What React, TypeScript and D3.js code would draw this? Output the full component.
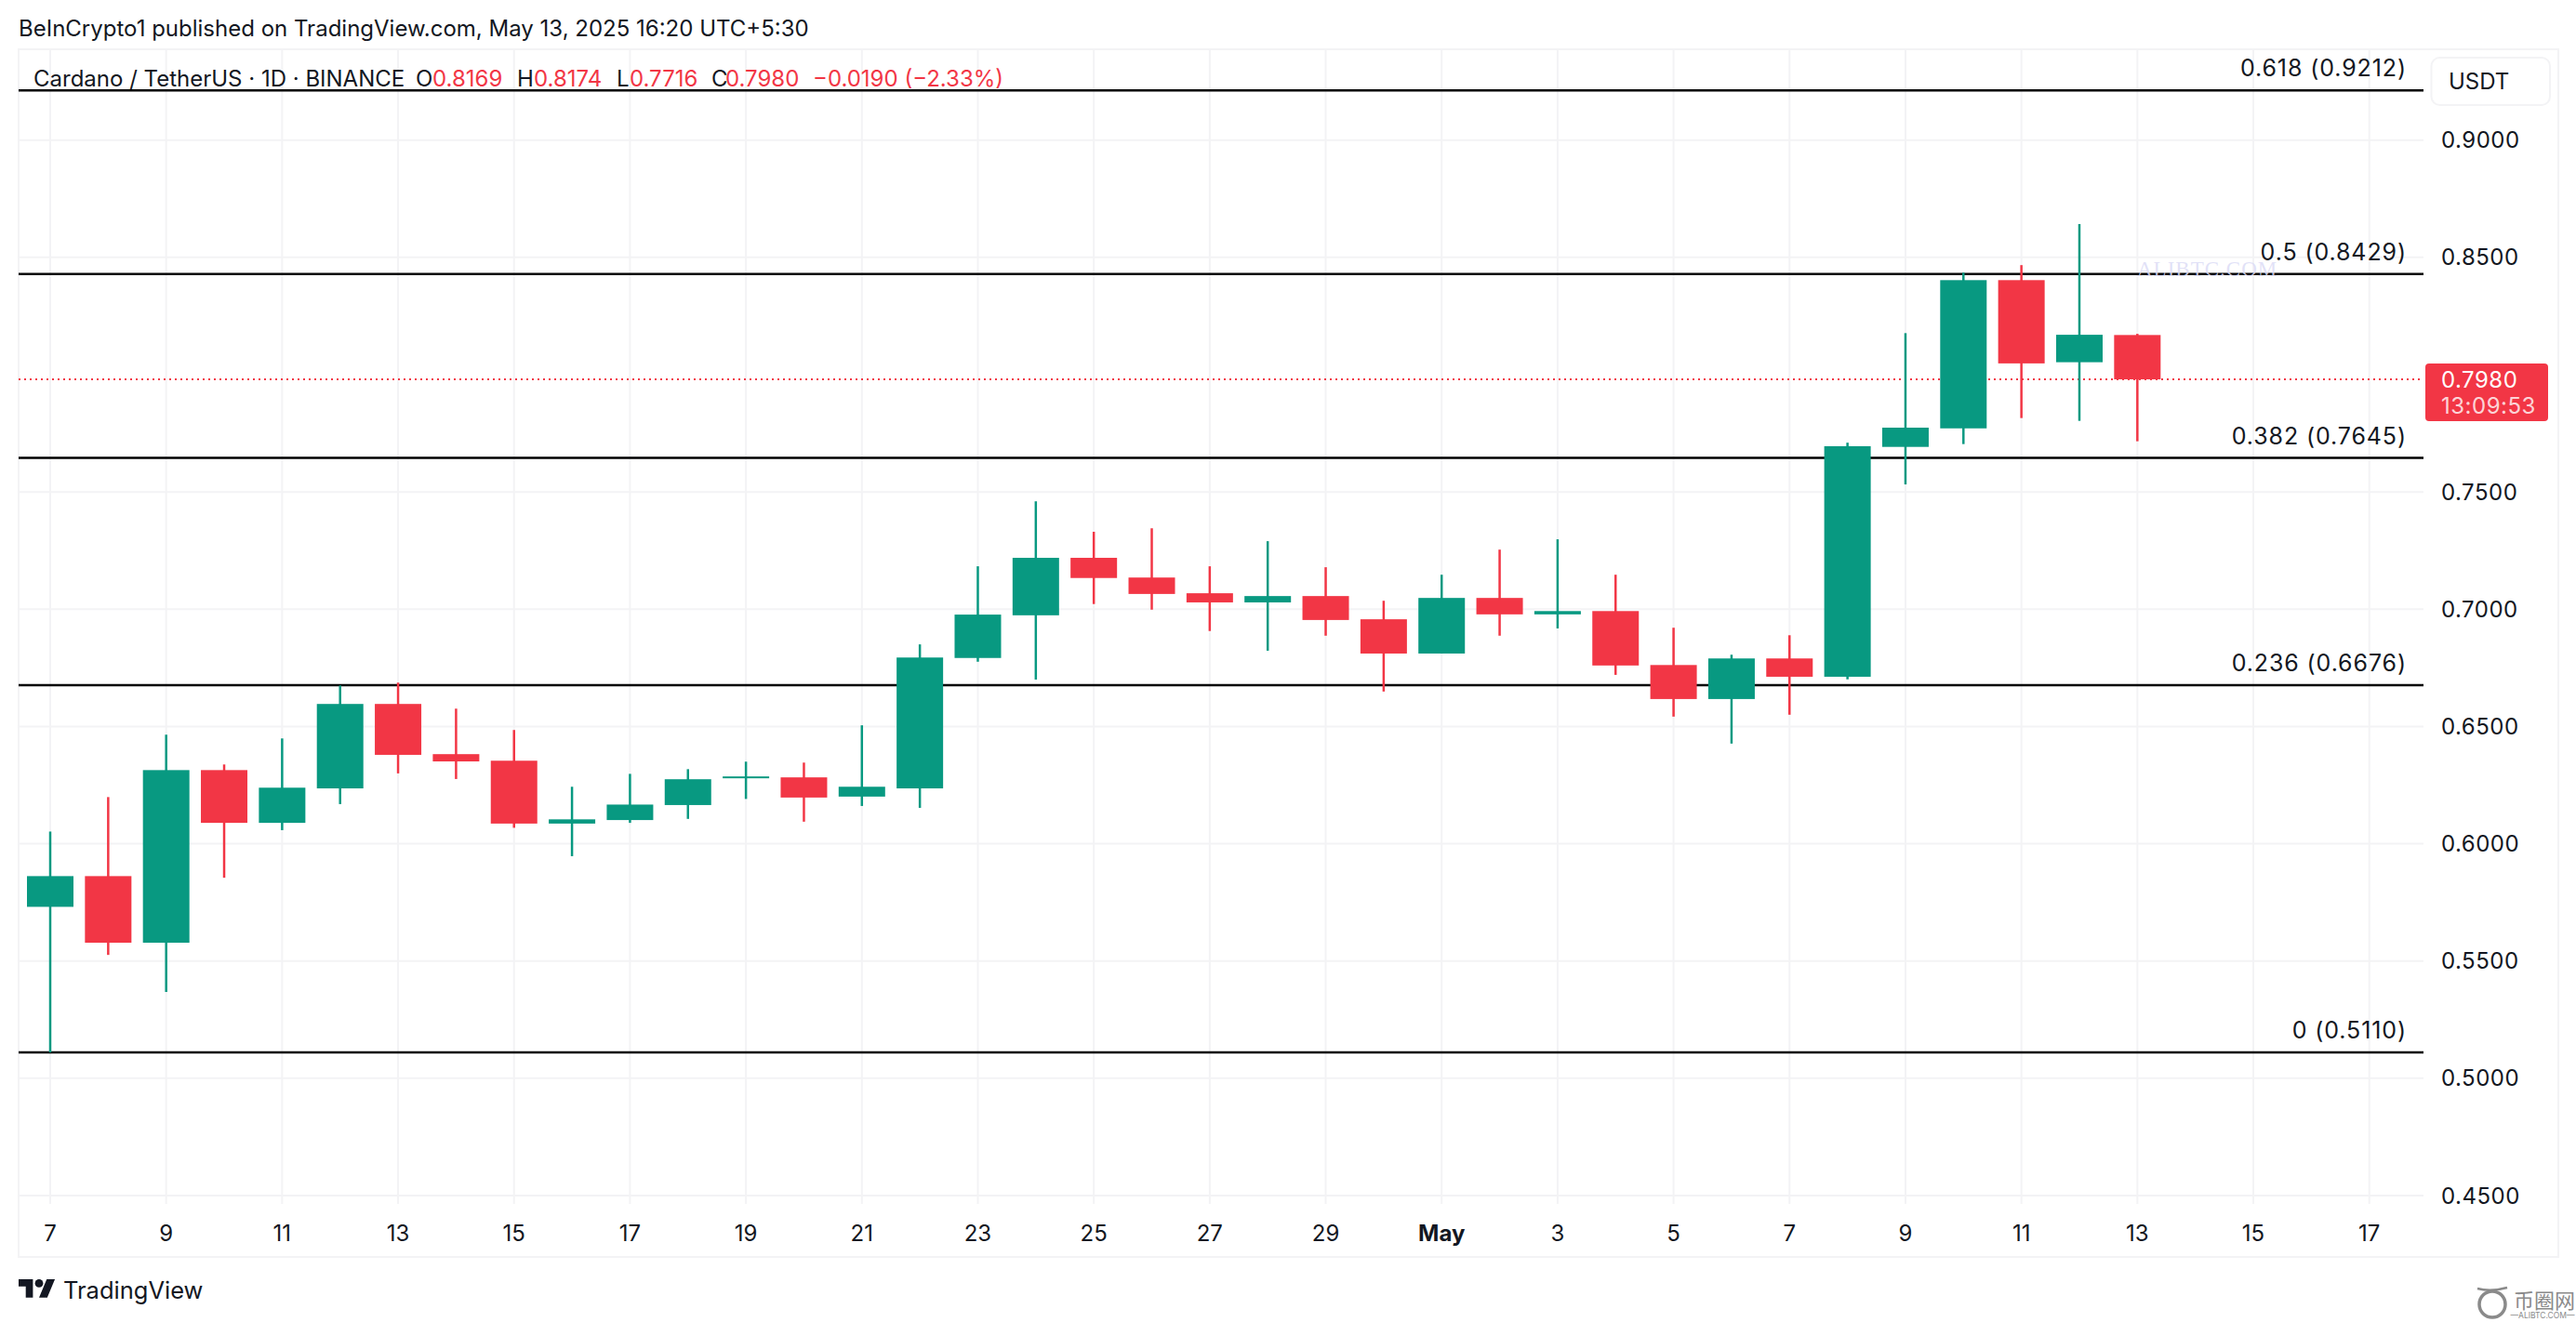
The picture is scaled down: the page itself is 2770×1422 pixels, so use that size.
import * as d3 from 'd3';

// Daily ADA/USDT candles, 7 Apr - 13 May 2025
const opens = [
  0.5731, 0.5862, 0.5578, 0.6314, 0.6089, 0.6236, 0.6596, 0.6382, 0.6354, 0.6086, 0.6101,
  0.6165, 0.6280, 0.6283, 0.6201, 0.6236, 0.6792, 0.6974, 0.7219, 0.7135, 0.7068, 0.7029,
  0.7056, 0.6957, 0.6811, 0.7048, 0.6978, 0.6992, 0.6762, 0.6617, 0.6790, 0.6712, 0.7692,
  0.7771, 0.8403, 0.8053, 0.8169,
];
const highs = [
  0.6052, 0.6199, 0.6465, 0.6338, 0.6449, 0.6675, 0.6687, 0.6576, 0.6485, 0.6243, 0.6298,
  0.6318, 0.6350, 0.6346, 0.6505, 0.6850, 0.7183, 0.7460, 0.7330, 0.7345, 0.7183, 0.7290,
  0.7179, 0.7036, 0.7147, 0.7254, 0.7298, 0.7147, 0.6921, 0.6806, 0.6889, 0.7710, 0.8177,
  0.8435, 0.8467, 0.8642, 0.8174,
];
const lows = [
  0.5110, 0.5526, 0.5368, 0.5855, 0.6058, 0.6169, 0.6300, 0.6276, 0.6068, 0.5947, 0.6089,
  0.6106, 0.6191, 0.6094, 0.6161, 0.6153, 0.6776, 0.6700, 0.7022, 0.6998, 0.6907, 0.6823,
  0.6887, 0.6649, 0.6811, 0.6887, 0.6918, 0.6720, 0.6542, 0.6427, 0.6550, 0.6701, 0.7532,
  0.7704, 0.7815, 0.7803, 0.7716,
];
const closes = [
  0.5862, 0.5578, 0.6314, 0.6089, 0.6239, 0.6596, 0.6379, 0.6351, 0.6086, 0.6104, 0.6167,
  0.6275, 0.6287, 0.6197, 0.6243, 0.6794, 0.6977, 0.7219, 0.7133, 0.7065, 0.7029, 0.7056,
  0.6954, 0.6811, 0.7048, 0.6978, 0.6992, 0.6760, 0.6617, 0.6790, 0.6712, 0.7695, 0.7774,
  0.8403, 0.8048, 0.8170, 0.7980,
];

const priceTicks = [0.9, 0.85, 0.75, 0.7, 0.65, 0.6, 0.55, 0.5, 0.45];
const dayIndexes = [0, 2, 4, 6, 8, 10, 12, 14, 16, 18, 20, 22, 24, 26, 28, 30, 32, 34, 36, 38, 40];
const dayLabels = ['7', '9', '11', '13', '15', '17', '19', '21', '23', '25', '27', '29', 'May', '3', '5', '7', '9', '11', '13', '15', '17'];
const fibRatios = ['0.618', '0.5', '0.382', '0.236', '0'];
const fibPrices = [0.9212, 0.8429, 0.7645, 0.6676, 0.511];
const lastPrice = 0.798;

const FONT = 'Inter, sans-serif';
const GREEN = '#089981';
const RED = '#F23645';
const TEXT = '#131722';
const GRID = '#f3f3f5';

const LEFT = 20;
const PLOT_RIGHT = 2606;
const TOP = 53;
const PLOT_BOTTOM = 1295;
const FRAME_RIGHT = 2751;
const FRAME_BOTTOM = 1352;
const BODY_WIDTH = 50;

const x = d3.scaleLinear().domain([0, 40]).range([54, 2547.7]);
const y = d3.scaleLinear().domain([0.9, 0.45]).range([150.7, 1286]);

const legendLabels = [
  { at: 447, text: 'O', fill: TEXT },
  { at: 465, text: '0.8169', fill: RED },
  { at: 556, text: 'H', fill: TEXT },
  { at: 574, text: '0.8174', fill: RED },
  { at: 663, text: 'L', fill: TEXT },
  { at: 677, text: '0.7716', fill: RED },
  { at: 765, text: 'C', fill: TEXT },
  { at: 780, text: '0.7980', fill: RED },
  { at: 874, text: '\u22120.0190 (\u22122.33%)', fill: RED },
];

export default function App() {
  return (
    <svg
      width={2770}
      height={1422}
      viewBox="0 0 2770 1422"
      style={{ position: 'fixed', left: 0, top: 0, background: '#fff' }}
      fontFamily={FONT}
    >
      <text x={20} y={39} fontSize={24} fill={TEXT}>
        BeInCrypto1 published on TradingView.com, May 13, 2025 16:20 UTC+5:30
      </text>

      <rect x={LEFT} y={TOP} width={FRAME_RIGHT - LEFT} height={FRAME_BOTTOM - TOP} fill="none" stroke={GRID} strokeWidth={2} />

      {/* grid */}
      {dayIndexes.map((d) => (
        <line key={d} x1={x(d)} x2={x(d)} y1={TOP} y2={PLOT_BOTTOM} stroke={GRID} strokeWidth={2} />
      ))}
      {priceTicks.map((p) => (
        <line key={p} x1={LEFT} x2={PLOT_RIGHT} y1={y(p)} y2={y(p)} stroke={GRID} strokeWidth={2} />
      ))}

      {/* fib levels */}
      {fibPrices.map((p, i) => (
        <g key={p}>
          <line x1={LEFT} x2={PLOT_RIGHT} y1={y(p)} y2={y(p)} stroke="#000" strokeWidth={2.5} />
          <text x={2588} y={y(p) - 15} textAnchor="end" fontSize={25} letterSpacing={0.9} fill={TEXT}>
            {`${fibRatios[i]} (${p.toFixed(4)})`}
          </text>
        </g>
      ))}

      {/* last price line */}
      <line x1={LEFT} x2={PLOT_RIGHT} y1={y(lastPrice)} y2={y(lastPrice)} stroke={RED} strokeWidth={2} strokeDasharray="2 4" />

      {/* candles */}
      {closes.map((c, i) => {
        const up = c >= opens[i];
        const color = up ? GREEN : RED;
        const top = y(Math.max(opens[i], c));
        const bottom = y(Math.min(opens[i], c));
        return (
          <g key={i}>
            <line x1={x(i)} x2={x(i)} y1={y(highs[i])} y2={y(lows[i])} stroke={color} strokeWidth={2.5} />
            <rect x={x(i) - BODY_WIDTH / 2} y={top} width={BODY_WIDTH} height={Math.max(bottom - top, 2)} fill={color} />
          </g>
        );
      })}

      {/* watermark, sits over the level line */}
      <text x={2298} y={297} fontFamily="'Liberation Serif', serif" fontSize={23} letterSpacing={1} fill="#dcdcf6" fillOpacity={0.85}>
        ALIBTC.COM
      </text>

      {/* legend */}
      <text x={36} y={93} fontSize={24} fill={TEXT}>
        Cardano / TetherUS · 1D · BINANCE
      </text>
      {legendLabels.map((l) => (
        <text key={l.at} x={l.at} y={93} fontSize={24} fill={l.fill}>
          {l.text}
        </text>
      ))}

      {/* price axis */}
      <rect x={2614.5} y={62} width={127.5} height={51} rx={9} fill="#fff" stroke={GRID} strokeWidth={2} />
      <text x={2633} y={96} fontSize={24} fill={TEXT}>USDT</text>
      {priceTicks.map((p) => (
        <text key={p} x={2625} y={y(p)} dy="0.36em" fontSize={24} letterSpacing={0.5} fill={TEXT}>
          {p.toFixed(4)}
        </text>
      ))}

      <rect x={2608} y={391} width={132} height={62} rx={4} fill={RED} />
      <text x={2625} y={y(lastPrice)} dy="0.36em" fontSize={24} letterSpacing={0.5} fill="#fff">
        {lastPrice.toFixed(4)}
      </text>
      <text x={2625} y={436} dy="0.36em" fontSize={24} letterSpacing={0.5} fill="#fff" fillOpacity={0.8}>
        13:09:53
      </text>

      {/* time axis */}
      {dayIndexes.map((d, i) => (
        <text
          key={d}
          x={x(d)}
          y={1326}
          dy="0.36em"
          textAnchor="middle"
          fontSize={24}
          fontWeight={dayLabels[i] === 'May' ? 700 : 400}
          fill={TEXT}
        >
          {dayLabels[i]}
        </text>
      ))}

      {/* TradingView mark */}
      <g transform="translate(20, 1371.6) scale(1.1)" fill={TEXT}>
        <path d="M14 22H7V11H0V4h14v18zM28 22h-8l7.5-18h8L28 22z" />
        <circle cx={20} cy={8} r={4} />
      </g>
      <text x={68} y={1397} fontSize={25.5} fill={TEXT}>TradingView</text>

      {/* site stamp */}
      <g fill="none" stroke="#8a8a8a">
        <circle cx={2680} cy={1403} r={14} strokeWidth={3.5} />
        <path d="M2664 1386 q14 4 32 -1" strokeWidth={2.5} />
      </g>
      <text x={2703} y={1407} fontFamily="'Noto Sans CJK SC', sans-serif" fontSize={22} fill="#8a8a8a">
        币圈网
      </text>
      <text x={2734} y={1418} textAnchor="middle" fontSize={8.5} fill="#8a8a8a">
        —ALIBTC.COM—
      </text>
    </svg>
  );
}
